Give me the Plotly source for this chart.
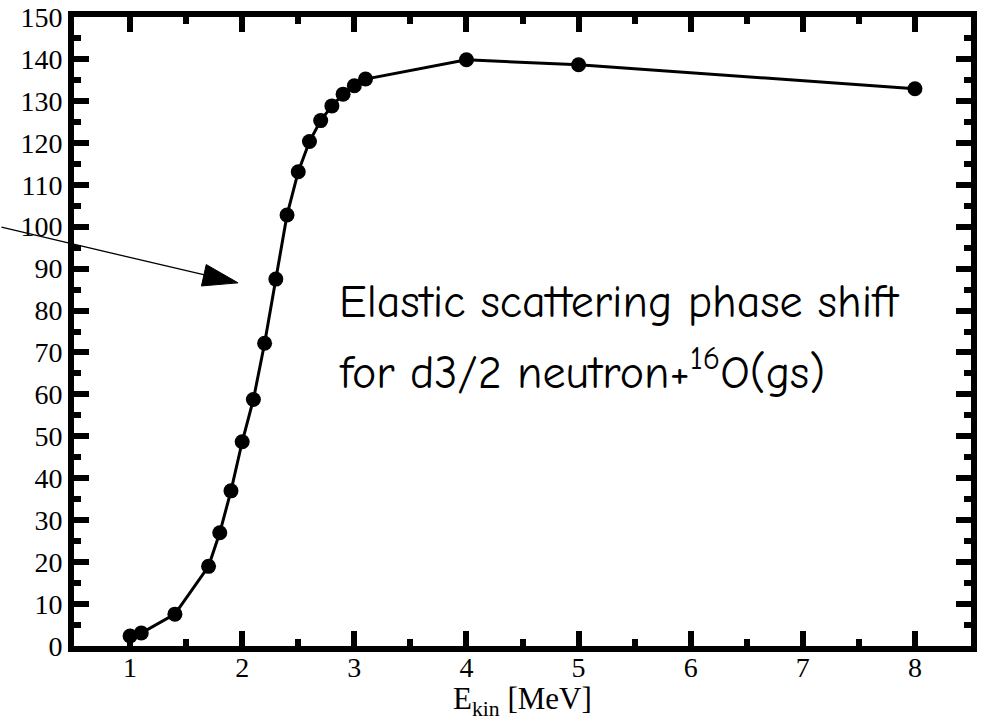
import plotly.graph_objects as go

# Data
energy_mev = [1.0, 1.1, 1.4, 1.7, 1.8, 1.9, 2.0, 2.1, 2.2, 2.3, 2.4, 2.5, 2.6, 2.7,
              2.8, 2.9, 3.0, 3.1, 4.0, 5.0, 8.0]
phase_shift = [2.4, 3.1, 7.6, 19.0, 27.0, 37.0, 48.7, 58.8, 72.2, 87.5, 102.8, 113.1,
               120.3, 125.3, 128.8, 131.6, 133.6, 135.2, 139.8, 138.6, 132.9]

x_ticks = [1, 2, 3, 4, 5, 6, 7, 8]
y_ticks = list(range(0, 151, 10))

label_line1 = "Elastic scattering phase shift"
label_line2 = "for d3/2 neutron+<sup>16</sup>O(gs)"
x_title = "E<sub>kin</sub> [MeV]"

serif = "Liberation Serif, Times New Roman, serif"
comic = "Comic Sans MS, Comic Neue, Noto Sans, sans-serif"

fig = go.Figure()
fig.add_trace(go.Scatter(
    x=energy_mev, y=phase_shift, mode="lines+markers",
    line=dict(color="black", width=3),
    marker=dict(color="black", size=15),
    showlegend=False, hoverinfo="skip",
))

axis_common = dict(
    showline=True, linecolor="black", linewidth=6, mirror="allticks",
    ticks="inside", tickcolor="black", tickwidth=6, ticklen=15,
    showgrid=False, zeroline=False, automargin=False,
    tickfont=dict(family=serif, size=28, color="black"),
)

fig.update_xaxes(
    range=[0.5, 8.5], tickmode="array", tickvals=x_ticks,
    ticktext=[str(v) for v in x_ticks], ticklabelstandoff=-9,
    minor=dict(dtick=0.5, ticks="inside", ticklen=7, tickwidth=6, tickcolor="black", showgrid=False),
    **axis_common,
)
fig.update_yaxes(
    range=[0, 150], tickmode="array", tickvals=y_ticks,
    ticktext=[str(v) for v in y_ticks],
    minor=dict(dtick=5, ticks="inside", ticklen=7, tickwidth=6, tickcolor="black", showgrid=False),
    **axis_common,
)

# x-axis title placed below the tick labels
fig.add_annotation(x=0.5, y=-0.088, xref="paper", yref="paper", text=x_title, showarrow=False,
                   xanchor="center", yanchor="middle",
                   font=dict(family=serif, size=31, color="black"))

# text annotation
fig.add_annotation(x=2.847, y=82.0, xref="x", yref="y", text=label_line1, showarrow=False,
                   xanchor="left", yanchor="middle",
                   font=dict(family=comic, size=46, color="black"))
fig.add_annotation(x=2.847, y=65.8, xref="x", yref="y", text=label_line2, showarrow=False,
                   xanchor="left", yanchor="middle",
                   font=dict(family=comic, size=46, color="black"))

# arrow line
fig.add_annotation(x=1.963, y=86.6, xref="x", yref="y", text="", showarrow=True,
                   ax=-250, ay=-56, arrowhead=0, arrowwidth=1.3, arrowcolor="black", standoff=30)
# arrow head (triangle, pixel-sized, anchored at arrow tip)
fig.add_shape(type="path", xref="x", yref="y", xsizemode="pixel", ysizemode="pixel",
              xanchor=1.963, yanchor=86.6,
              path="M0,0 L-36.6,-3.1 L-31.8,18.3 Z",
              fillcolor="black", line=dict(color="black", width=1))

fig.update_layout(
    width=981, height=720,
    margin=dict(l=74, r=10, t=17, b=74),
    paper_bgcolor="white", plot_bgcolor="white",
)

fig.write_html("out.html")
